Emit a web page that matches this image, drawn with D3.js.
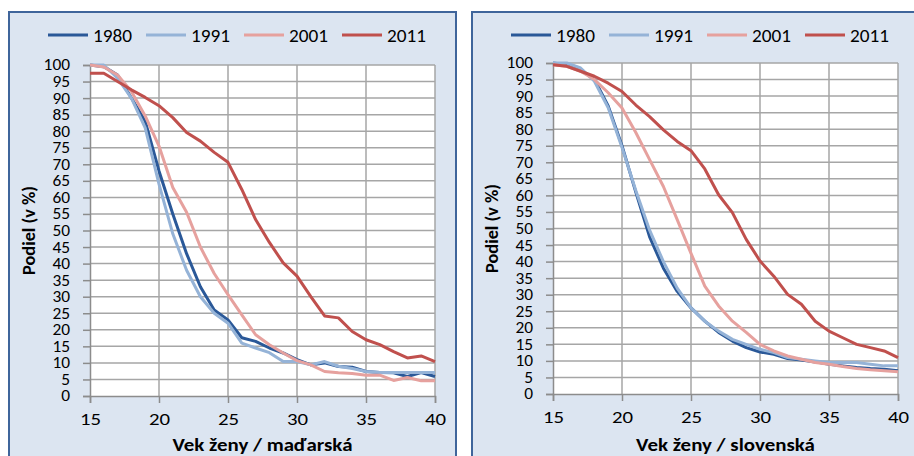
<!DOCTYPE html>
<html>
<head>
<meta charset="utf-8">
<script src="https://cdn.jsdelivr.net/npm/d3@7"></script>
<style>
  body { margin: 0; background: #fff; }
  svg { display: block; font-family: Carlito, Calibri, "Liberation Sans", sans-serif; }
</style>
</head>
<body>
<div id="chart"></div>
<script>
var ages = d3.range(15, 41);
var years = ["1980", "1991", "2001", "2011"];
var colors = ["#2a5898", "#95b3d7", "#e6a19e", "#c0504d"];

// maďarská
var hu1980 = [100, 99.5, 97, 90, 83, 68, 55, 43, 33, 26, 23, 17.6, 16.5, 14.5, 13, 11, 9.4, 10, 8.9, 8.7, 7.4, 7.1, 7, 5.9, 7.1, 5.9];
var hu1991 = [100, 100, 96, 90, 81, 64, 49, 38, 30, 25, 22, 16, 14.5, 13.1, 10.4, 10.4, 9.4, 10.4, 9, 8.3, 7.4, 7.1, 7.1, 7.1, 7.1, 7.1];
var hu2001 = [100, 99.4, 97, 92, 84.6, 75.5, 63, 55.5, 45, 37, 30.6, 24.5, 18.5, 15.5, 13, 10.7, 9.4, 7.4, 7, 6.8, 6.3, 6.3, 4.7, 5.6, 4.6, 4.6];
var hu2011 = [97.5, 97.5, 95, 92.5, 90.2, 87.7, 84.1, 79.6, 77, 73.6, 70.6, 62.4, 53.3, 46.4, 40.2, 36.2, 30, 24.2, 23.6, 19.5, 17, 15.5, 13.4, 11.5, 12.1, 10.4];

// slovenská
var sk1980 = [100, 99.5, 98, 95, 87, 75, 61, 47.5, 38, 31, 26, 22, 18.6, 16, 14, 12.7, 12, 10.7, 10.3, 9.7, 9, 8.5, 8, 7.7, 7.5, 7];
var sk1991 = [100, 100, 98.5, 94.5, 86.5, 74.5, 61.5, 49.5, 40, 32, 26, 22, 19, 16.5, 15, 13.5, 12.5, 11, 10.5, 10, 9.5, 9.5, 9.5, 9, 8.5, 8.5];
var sk2001 = [99.5, 99, 97.5, 95, 91, 86.4, 79, 70.8, 62.7, 52.7, 42.5, 32.6, 26.6, 22, 18.6, 15, 13, 11.5, 10.5, 9.5, 9, 8.3, 7.7, 7.3, 7, 6.7];
var sk2011 = [99.5, 99, 97.5, 96, 93.9, 91.4, 87.3, 83.8, 79.8, 76.3, 73.5, 68, 60.2, 54.8, 46.7, 40.2, 35.6, 30.1, 27.1, 22, 19, 17, 15, 14, 13, 11];

var xTicks = [15, 20, 25, 30, 35, 40];
var yTicks = d3.range(0, 101, 5);

var panels = [
  { left: 9, plotX: 90, plotY: 65, title: "Vek ženy / maďarská", series: [hu1980, hu1991, hu2001, hu2011] },
  { left: 472, plotX: 553, plotY: 63, title: "Vek ženy / slovenská", series: [sk1980, sk1991, sk2001, sk2011] }
];

var W = 914, H = 456;
var svg = d3.select("#chart").append("svg").attr("width", W).attr("height", H);

// the original is a bit wider than tall, so the letters are stretched sideways
function stretch(sel, k) {
  sel.each(function() {
    var len = this.getComputedTextLength();
    d3.select(this).attr("textLength", len * k).attr("lengthAdjust", "spacingAndGlyphs");
  });
}

function drawPanel(p) {
  var pw = 345, ph = 331;
  var g = svg.append("g");

  g.append("rect")
    .attr("x", p.left).attr("y", 12)
    .attr("width", p.left === 9 ? 447 : 460).attr("height", 460)
    .attr("fill", "#dce5f1")
    .attr("stroke", "#3f659b")
    .attr("stroke-width", 2);

  var x = d3.scaleLinear().domain([15, 40]).range([p.plotX, p.plotX + pw]);
  var y = d3.scaleLinear().domain([0, 100]).range([p.plotY + ph, p.plotY]);

  g.append("rect")
    .attr("x", p.plotX).attr("y", p.plotY)
    .attr("width", pw).attr("height", ph)
    .attr("fill", "#fff");

  // grid
  g.append("g").selectAll("line").data(yTicks.slice(1)).join("line")
    .attr("x1", p.plotX).attr("x2", p.plotX + pw)
    .attr("y1", d => y(d)).attr("y2", d => y(d))
    .attr("stroke", "#a6a6a6").attr("stroke-width", 1.5);
  g.append("g").selectAll("line").data(xTicks.slice(1)).join("line")
    .attr("y1", p.plotY).attr("y2", p.plotY + ph)
    .attr("x1", d => x(d)).attr("x2", d => x(d))
    .attr("stroke", "#a6a6a6").attr("stroke-width", 1.5);

  var yAxis = d3.axisLeft(y).tickValues(yTicks).tickSize(7).tickPadding(13);
  var xAxis = d3.axisBottom(x).tickValues(xTicks).tickSize(7).tickPadding(11);

  g.append("g").attr("transform", "translate(" + p.plotX + ",0)").call(yAxis)
    .call(a => a.selectAll("line, path").attr("stroke", "#8c8c8c").attr("stroke-width", 1.5))
    .call(a => a.selectAll("text").attr("font-size", 15.5).attr("fill", "#000")
      .attr("font-family", "Carlito, Calibri, 'Liberation Sans', sans-serif").call(stretch, 1.12));

  g.append("g").attr("transform", "translate(0," + (p.plotY + ph) + ")").call(xAxis)
    .call(a => a.selectAll("line, path").attr("stroke", "#8c8c8c").attr("stroke-width", 1.5))
    .call(a => a.selectAll("text").attr("font-size", 16).attr("fill", "#000")
      .attr("font-family", "Carlito, Calibri, 'Liberation Sans', sans-serif").call(stretch, 1.3));

  var line = d3.line().x((d, i) => x(ages[i])).y(d => y(d));

  g.append("g").selectAll("path").data(p.series).join("path")
    .attr("d", line)
    .attr("fill", "none")
    .attr("stroke", (d, i) => colors[i])
    .attr("stroke-width", 3)
    .attr("stroke-linejoin", "round");

  // legend
  var leg = g.append("g").attr("transform", "translate(" + (p.plotX - 42) + ",35)");
  var item = leg.selectAll("g").data(years).join("g")
    .attr("transform", (d, i) => "translate(" + (i * 98) + ",0)");
  item.append("line").attr("x1", 0).attr("x2", 40)
    .attr("stroke", (d, i) => colors[i]).attr("stroke-width", 3);
  item.append("text").attr("x", 45).attr("y", 6.5)
    .attr("font-size", 18).text(d => d).call(stretch, 1.07);

  g.append("text")
    .attr("x", p.plotX + pw / 2).attr("y", 451)
    .attr("text-anchor", "middle")
    .attr("font-size", 18.5).attr("font-weight", "bold")
    .text(p.title).call(stretch, 1.13);

  g.append("text")
    .attr("transform", "translate(" + (p.left + 26) + "," + (p.plotY + ph / 2) + ") rotate(-90)")
    .attr("text-anchor", "middle")
    .attr("font-size", 18.3).attr("font-weight", "bold")
    .text("Podiel (v %)");
}

panels.forEach(drawPanel);
</script>
</body>
</html>
